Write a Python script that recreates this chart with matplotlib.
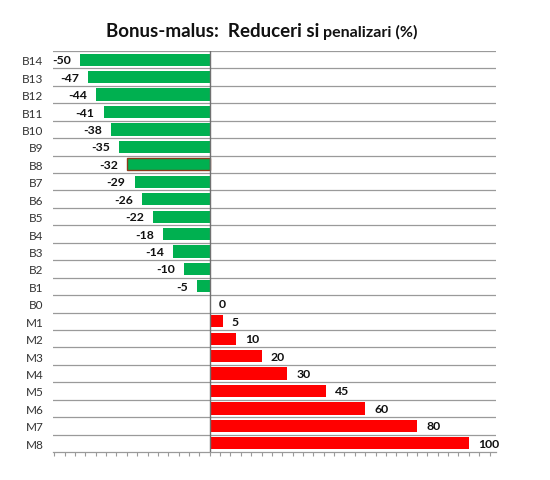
import matplotlib
matplotlib.use("Agg")
import matplotlib.pyplot as plt

categories = ["B14", "B13", "B12", "B11", "B10", "B9", "B8", "B7", "B6", "B5", "B4",
              "B3", "B2", "B1", "B0", "M1", "M2", "M3", "M4", "M5", "M6", "M7", "M8"]
values = [-50, -47, -44, -41, -38, -35, -32, -29, -26, -22, -18,
          -14, -10, -5, 0, 5, 10, 20, 30, 45, 60, 80, 100]
highlight = "B8"

GREEN = "#00B050"
RED = "#FF0000"
GRID = "#9A9A9A"

plt.rcParams['font.family'] = ['Lato', 'DejaVu Sans']

fig = plt.figure(figsize=(5.5, 4.81), dpi=100)
ax = fig.add_axes([53/550, 1-453/481, (496-53)/550, (453-52)/481])

pos = list(range(len(categories)))
colors = [GREEN if v < 0 else RED for v in values]
bars = ax.barh(pos, values, height=0.7, color=colors, zorder=3)
for b, c in zip(bars, categories):
    if c == highlight:
        b.set_edgecolor("#8B3A1A")
        b.set_linewidth(1.0)

for p, v in zip(pos, values):
    if v < 0:
        ax.annotate(str(v), (v, p), xytext=(-6.5, 0), textcoords="offset points",
                    ha="right", va="center", fontsize=8.8, fontweight="bold", color="#111111")
    else:
        ax.annotate(str(v), (v, p), xytext=(6.5, 0), textcoords="offset points",
                    ha="left", va="center", fontsize=8.8, fontweight="bold", color="#111111")

ax.set_xlim(-60.5, 110.5)
ax.set_ylim(len(categories) - 0.5, -0.5)

for k in range(len(categories)):
    ax.axhline(k - 0.5, color=GRID, lw=0.9, zorder=1)
ax.axvline(0, color="#707070", lw=1.0, zorder=4)

ax.set_yticks(pos)
ax.set_yticklabels(categories, fontsize=8.5, color="#333333")
ax.tick_params(axis="y", length=0, pad=7)

ax.set_xticks([x for x in range(-60, 111, 4)])
ax.set_xticklabels([])
ax.tick_params(axis="x", length=3, width=0.8, color=GRID, direction="out")

for s in ["top", "right", "left"]:
    ax.spines[s].set_visible(False)
ax.spines["bottom"].set_color(GRID)
ax.spines["bottom"].set_linewidth(0.9)

fig.text(0.588, 0.935, "Bonus-malus:  Reduceri si ", ha="right", va="center",
         fontsize=13.5, fontweight="bold", color="#111111")
fig.text(0.588, 0.933, "penalizari (%)", ha="left", va="center",
         fontsize=11.5, fontweight="bold", color="#111111")

fig.savefig("out.png", dpi=100)
